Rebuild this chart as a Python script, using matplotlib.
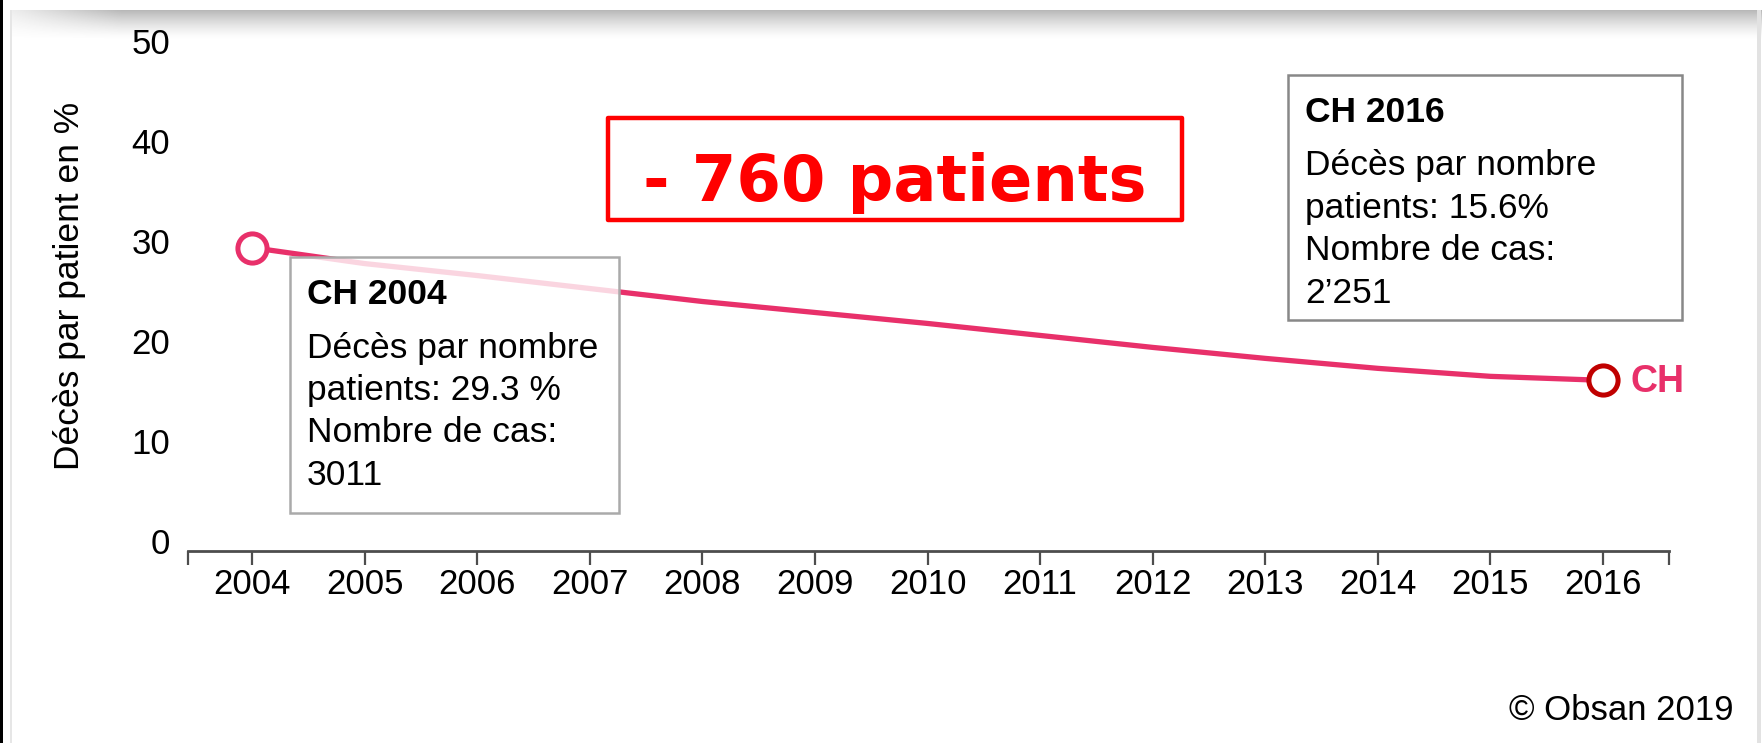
import numpy as np
import matplotlib
matplotlib.use('Agg')
import matplotlib.pyplot as plt
from matplotlib.patches import Rectangle
from matplotlib.transforms import ScaledTranslation

plt.rcParams['font.family'] = ['Liberation Sans', 'DejaVu Sans']

# données
years = [2004, 2005, 2006, 2007, 2008, 2009, 2010, 2011, 2012, 2013, 2014, 2015, 2016]
deces_pct = [29.7, 28.1, 26.9, 25.6, 24.3, 23.2, 22.1, 20.9, 19.7, 18.6, 17.6, 16.8, 16.4]
y_ticks = [0, 10, 20, 30, 40, 50]

box_2004 = ['Décès par nombre', 'patients: 29.3 %', 'Nombre de cas:', '3011']
box_2016 = ['Décès par nombre', 'patients: 15.6%', 'Nombre de cas:', '2’251']

PINK = '#E8306A'
DARK_RED = '#C00000'
AXIS = '#4d4d4d'

W, H = 1765, 743
fig = plt.figure(figsize=(W / 100, H / 100), dpi=100)


def fx(x):
    return x / W


def fy(y):
    return 1 - y / H


# fond: bord noir à gauche, carte avec ombre en haut
bg = fig.add_axes([0, 0, 1, 1], zorder=-1)
bg.set_xlim(0, W)
bg.set_ylim(H, 0)
bg.axis('off')
bg.add_patch(Rectangle((0, 0), 3, H, color='black', lw=0))
bg.add_patch(Rectangle((10, 10), 2.5, H, color='#e6e6e6', lw=0))
bg.add_patch(Rectangle((1757, 10), 4, H, color='#e2e2e2', lw=0))
yy = np.linspace(0, 1, 30)[:, None]
xx = np.linspace(0, 1, 400)[None, :]
alpha = (0.5 * (1 - yy) ** 1.4) * np.clip(0.25 + xx * 12, 0, 1)
shadow = np.zeros((30, 400, 4))
shadow[..., :3] = 0.45
shadow[..., 3] = alpha
bg.imshow(shadow, extent=(10, 1762, 40, 10), aspect='auto', interpolation='bilinear')

# axes principal
ax = fig.add_axes([fx(187.5), fy(551), fx(1669) - fx(187.5), (551 - 45) / H], zorder=1)
ax.patch.set_alpha(0)
ax.set_xlim(2003.427, 2016.586)
ax.set_ylim(-0.7, 50)
for s in ['top', 'right', 'left']:
    ax.spines[s].set_visible(False)
ax.spines['bottom'].set_color(AXIS)
ax.spines['bottom'].set_linewidth(2)

ax.set_xticks(years)
ax.set_xticks([2003.427, 2016.586], minor=True)
ax.tick_params(axis='x', which='both', direction='out', length=10, width=1.6, color=AXIS)
ax.tick_params(axis='x', which='major', labelsize=25, pad=2)
ax.set_yticks(y_ticks)
ax.tick_params(axis='y', length=0, pad=12.6, labelsize=25)
for lab in ax.get_yticklabels():
    lab.set_transform(lab.get_transform() + ScaledTranslation(0, 3.5 / 100, fig.dpi_scale_trans))

ax.plot(years, deces_pct, color=PINK, lw=3.8, zorder=3, solid_capstyle='round')
ax.plot(years[0], deces_pct[0], 'o', ms=21, mfc='white', mec=PINK, mew=3.6, zorder=5)
ax.plot(years[-1], deces_pct[-1], 'o', ms=21, mfc='white', mec=DARK_RED, mew=3.6, zorder=5)
ax.annotate('CH', (years[-1], deces_pct[-1]), xytext=(20, -1.5), textcoords='offset points',
            va='center', ha='left', color=PINK, fontweight='bold', fontsize=27)

fig.text(fx(70), fy(286), 'Décès par patient en %', rotation=90, ha='center', va='center',
         fontsize=25.5)


# encadrés
def info_box(x0, y0, x1, y1, title, lines, edge):
    ax.add_patch(Rectangle((fx(x0), fy(y1)), fx(x1) - fx(x0), fy(y0) - fy(y1),
                           transform=fig.transFigure, clip_on=False, zorder=6,
                           facecolor=(1, 1, 1, 0.8), edgecolor=edge, lw=1.8))
    ax.text(fx(x0 + 17), fy(y0 + 37), title, transform=fig.transFigure, zorder=7,
            fontsize=25.5, fontweight='bold', va='center', ha='left')
    for i, line in enumerate(lines):
        ax.text(fx(x0 + 17), fy(y0 + 91 + 42.5 * i), line, transform=fig.transFigure,
                zorder=7, fontsize=25.5, va='center', ha='left')


info_box(290, 257, 619, 513, 'CH 2004', box_2004, '#aaaaaa')
info_box(1288, 75, 1682, 320, 'CH 2016', box_2016, '#888888')

# encadré rouge
ax.add_patch(Rectangle((fx(608), fy(220)), fx(1182) - fx(608), fy(118) - fy(220),
                       transform=fig.transFigure, clip_on=False, zorder=6,
                       fill=False, edgecolor='#FF0000', lw=3.2, joinstyle='round'))
fig.text(fx(895), fy(201), '- 760 patients', ha='center', va='baseline', color='#FF0000',
         fontsize=46, fontweight='bold', family='DejaVu Sans')

fig.text(fx(1734), fy(711), '© Obsan 2019', ha='right', va='center', fontsize=25)

fig.savefig('out.png', dpi=100)
